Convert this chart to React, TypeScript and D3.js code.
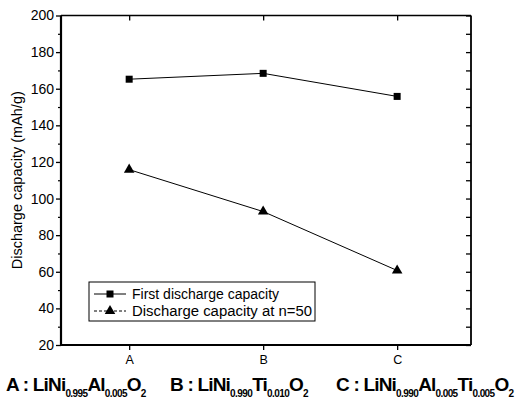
import React, { useRef, useEffect } from "react";
import * as d3 from "d3";

// data
const categories = ["A", "B", "C"];
const firstDischarge = [165.2, 168.4, 155.8];
const dischargeAt50 = [115.8, 92.9, 60.7];
const yTicks = [20, 40, 60, 80, 100, 120, 140, 160, 180, 200];
const yMinorTicks = [30, 50, 70, 90, 110, 130, 150, 170, 190];
const legendLabels = ["First discharge capacity", "Discharge capacity at n=50"];
const yTitle = "Discharge capacity (mAh/g)";

// [text, isSubscript]
const formulaA: [string, boolean][] = [["A : LiNi", false], ["0.995", true], ["Al", false], ["0.005", true], ["O", false], ["2", true]];
const formulaB: [string, boolean][] = [["B : LiNi", false], ["0.990", true], ["Ti", false], ["0.010", true], ["O", false], ["2", true]];
const formulaC: [string, boolean][] = [["C : LiNi", false], ["0.990", true], ["Al", false], ["0.005", true], ["Ti", false], ["0.005", true], ["O", false], ["2", true]];

const W = 530;
const H = 406;
const margin = { top: 15.5, right: 59, bottom: 61, left: 61 };
const FONT = "'Liberation Sans', Arial, Helvetica, sans-serif";
const NARROW = "'Liberation Sans Narrow', 'Arial Narrow', 'Liberation Sans', Arial, sans-serif";

const App = () => {
  const leftRef = useRef<SVGGElement>(null);
  const leftMinorRef = useRef<SVGGElement>(null);
  const rightRef = useRef<SVGGElement>(null);
  const bottomRef = useRef<SVGGElement>(null);
  const topRef = useRef<SVGGElement>(null);

  const innerW = W - margin.left - margin.right;
  const innerH = H - margin.top - margin.bottom;

  const x = d3.scalePoint<string>().domain(categories).range([0, innerW]).padding(0.53).align(0.48);
  const y = d3.scaleLinear().domain([20, 200]).range([innerH, 0]);

  useEffect(() => {
    d3.select(leftRef.current)
      .call(d3.axisLeft(y).tickValues(yTicks).tickSize(5).tickPadding(2).tickFormat(d3.format("d")))
      .call(g => g.select(".domain").remove())
      .call(g => g.selectAll("text").attr("font-family", NARROW).attr("font-size", 14).attr("fill", "#000"))
      .call(g => g.selectAll("line").attr("stroke-width", 1.3));
    d3.select(leftMinorRef.current)
      .call(d3.axisLeft(y).tickValues(yMinorTicks).tickSize(3).tickFormat(() => ""))
      .call(g => g.select(".domain").remove())
      .call(g => g.selectAll("line").attr("stroke-width", 1.2));
    d3.select(rightRef.current)
      .call(d3.axisLeft(y).tickValues([...yTicks, ...yMinorTicks]).tickSize(5).tickFormat(() => ""))
      .call(g => g.select(".domain").remove())
      .call(g => g.selectAll("line").attr("stroke-width", 1.3));
    d3.select(bottomRef.current)
      .call(d3.axisBottom(x).tickSize(5).tickPadding(5))
      .call(g => g.select(".domain").remove())
      .call(g => g.selectAll("text").attr("font-family", FONT).attr("font-size", 12.5).attr("fill", "#000"))
      .call(g => g.selectAll("line").attr("stroke-width", 1.3));
    d3.select(topRef.current)
      .call(d3.axisBottom(x).tickSize(5).tickFormat(() => ""))
      .call(g => g.select(".domain").remove())
      .call(g => g.selectAll("line").attr("stroke-width", 1.3));
  }, []);

  const line = d3
    .line<number>()
    .x((_, i) => x(categories[i]) as number)
    .y(d => y(d));

  const tri = d3.symbol(d3.symbolTriangle, 48)();

  const legendX = 89 - margin.left;
  const legendY = 282 - margin.top;

  const renderFormula = (parts: [string, boolean][], x0: number, key: string) => (
    <text key={key} x={x0} y={391} fontFamily={FONT} fontWeight="bold" fill="#000">
      {parts.map(([t, sub], i) => (
        <tspan
          key={i}
          fontSize={sub ? 10 : 19}
          dy={sub ? 6 : i === 0 ? 0 : -6}
          letterSpacing={sub ? -0.6 : -0.8}
        >
          {t}
        </tspan>
      ))}
    </text>
  );

  return (
    <svg width={W} height={H} style={{ position: "absolute", left: 0, top: 0, background: "#fff" }}>
      <rect width={W} height={H} fill="#fff" />
      <g transform={`translate(${margin.left},${margin.top})`}>
        {/* frame */}
        <line x1={0} x2={innerW} y1={0} y2={0} stroke="#000" strokeWidth={1.5} />
        <line x1={innerW} x2={innerW} y1={0} y2={innerH} stroke="#000" strokeWidth={1.8} />
        <line x1={0} x2={innerW} y1={innerH} y2={innerH} stroke="#000" strokeWidth={2} />
        <line x1={0} x2={0} y1={0} y2={innerH} stroke="#000" strokeWidth={2.2} />

        <g ref={leftRef} />
        <g ref={leftMinorRef} />
        <g ref={rightRef} transform={`translate(${innerW},0)`} />
        <g ref={bottomRef} transform={`translate(0,${innerH})`} />
        <g ref={topRef} />

        {/* series */}
        <path d={line(firstDischarge) || ""} fill="none" stroke="#000" strokeWidth={1} />
        <path d={line(dischargeAt50) || ""} fill="none" stroke="#000" strokeWidth={1} />
        {firstDischarge.map((d, i) => (
          <rect key={`s${i}`} x={(x(categories[i]) as number) - 3.5} y={y(d) - 3.5} width={7} height={7} fill="#000" />
        ))}
        {dischargeAt50.map((d, i) => (
          <path key={`t${i}`} d={tri || ""} transform={`translate(${x(categories[i])},${y(d)})`} fill="#000" />
        ))}

        {/* legend */}
        <g transform={`translate(${legendX},${legendY})`}>
          <rect x={0} y={0} width={226} height={39} fill="#fff" stroke="#000" strokeWidth={1} />
          <line x1={5} x2={37} y1={12} y2={12} stroke="#000" strokeWidth={1} />
          <rect x={17.5} y={8.5} width={7} height={7} fill="#000" />
          <text x={43} y={16.5} fontFamily={FONT} fontSize={14} fill="#000">
            {legendLabels[0]}
          </text>
          <line x1={5} x2={37} y1={29} y2={29} stroke="#000" strokeWidth={1} strokeDasharray="3,2" />
          <path d={tri || ""} transform={`translate(21,29)`} fill="#000" />
          <text x={43} y={33.5} fontFamily={FONT} fontSize={14} fill="#000" textLength={180} lengthAdjust="spacingAndGlyphs">
            {legendLabels[1]}
          </text>
        </g>
      </g>

      <text
        transform={`translate(22,${margin.top + innerH / 2}) rotate(-90)`}
        textAnchor="middle"
        fontFamily={FONT}
        fontSize={14.5}
        fill="#000"
      >
        {yTitle}
      </text>

      {renderFormula(formulaA, 6, "fa")}
      {renderFormula(formulaB, 170, "fb")}
      {renderFormula(formulaC, 336, "fc")}
    </svg>
  );
};

export default App;
